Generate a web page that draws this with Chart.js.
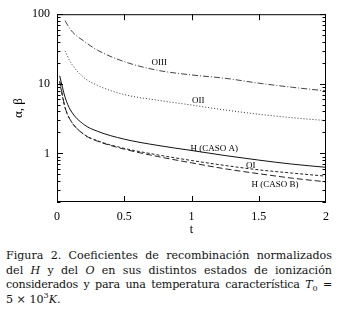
<!DOCTYPE html>
<html>
<head>
<meta charset="utf-8">
<script src="https://cdn.jsdelivr.net/npm/chart.js@4.4.1/dist/chart.umd.min.js"></script>
<style>
  body { margin: 0; background: #fff; width: 343px; height: 315px; overflow: hidden; position: relative; }
  #chart { display: block; }
  .caption {
    position: absolute; left: 6px; top: 249px; width: 326px;
    font-family: "DejaVu Serif", serif;
    font-size: 11.1px; line-height: 14.5px; color: #111;
  }
  .caption .j { text-align: justify; text-align-last: justify; }
  .caption .tight { letter-spacing: -0.2px; }
  .caption sub, .caption sup { font-size: 8px; line-height: 0; }
</style>
</head>
<body>
<canvas id="chart" width="343" height="240"></canvas>
<div class="caption">
  <div class="j">Figura 2. Coeficientes de recombinación normalizados</div>
  <div class="j">del <i>H</i> y del <i>O</i> en sus distintos estados de ionización</div>
  <div class="j tight">considerados y para una temperatura característica <i>T</i><sub>0</sub> =</div>
  <div>5 × 10<sup>3</sup><i>K</i>.</div>
</div>
<script>
// t grid (x axis) and normalised coefficients
const tValues = [0.02, 0.06, 0.1, 0.2, 0.3, 0.5, 0.75, 1, 1.25, 1.5, 1.75, 2];
const oIII    = [null, 81, 60, 41, 30.5, 20.8, 15.6, 13.4, 12, 10.2, 8.9, 7.9];
const oII     = [null, 29.7, 20.5, 12.3, 9.5, 7.0, 5.8, 4.95, 4.2, 3.65, 3.25, 2.96];
const hCasoA  = [13, 6.4, 4.2, 2.6, 2.08, 1.6, 1.3, 1.1, 0.93, 0.8, 0.7, 0.63];
const oI      = [10.5, 4.5, 3.0, 1.88, 1.52, 1.18, 0.95, 0.79, 0.67, 0.58, 0.52, 0.47];
const hCasoB  = [11, 4.6, 3.0, 1.87, 1.5, 1.15, 0.9, 0.73, 0.6, 0.51, 0.44, 0.39];

const yMajorTicks = [1, 10, 100];
const xTickStep = 0.5;

// curve labels, placed in data coordinates
const curveLabels = ['OIII', 'OII', 'H (CASO A)', 'OI', 'H (CASO B)'];
const labelT = [0.76, 1.05, 1.17, 1.44, 1.62];
const labelV = [20, 5.8, 1.17, 0.66, 0.36];

const serif = '"Liberation Serif", "Times New Roman", Times, serif';

// all the log ticks between 0.2 and 100 (minor + major)
function logTicks() {
  const out = [];
  [0.1, 1, 10].forEach(dec => {
    for (let k = 1; k <= 9; k++) {
      const v = +(k * dec).toPrecision(3);
      if (v >= 0.2 && v <= 100) out.push({ value: v });
    }
  });
  out.push({ value: 100 });
  return out;
}

// frame with inward ticks on all four sides, and curve labels
const framePlugin = {
  id: 'framePlugin',
  afterDraw(chart) {
    const { ctx, chartArea: a, scales: { x, y } } = chart;
    ctx.save();
    ctx.strokeStyle = '#000';
    ctx.lineWidth = 1;
    ctx.strokeRect(a.left + 0.5, a.top + 0.5, a.right - a.left - 1, a.bottom - a.top - 1);
    ctx.beginPath();
    y.ticks.forEach(tk => {
      const py = Math.round(y.getPixelForValue(tk.value)) + 0.5;
      const len = yMajorTicks.includes(tk.value) ? 6 : 3.5;
      ctx.moveTo(a.left, py); ctx.lineTo(a.left + len, py);
      ctx.moveTo(a.right, py); ctx.lineTo(a.right - len, py);
    });
    x.ticks.forEach(tk => {
      if (tk.value <= x.min || tk.value >= x.max) return;
      const px = Math.round(x.getPixelForValue(tk.value)) + 0.5;
      ctx.moveTo(px, a.bottom); ctx.lineTo(px, a.bottom - 6);
      ctx.moveTo(px, a.top); ctx.lineTo(px, a.top + 6);
    });
    ctx.stroke();

    ctx.fillStyle = '#000';
    ctx.font = '9px ' + serif;
    ctx.textAlign = 'center';
    ctx.textBaseline = 'middle';
    curveLabels.forEach((txt, i) => {
      ctx.fillText(txt, x.getPixelForValue(labelT[i]), y.getPixelForValue(labelV[i]));
    });
    ctx.restore();
  }
};

function series(values, dash, color) {
  return {
    data: tValues.map((t, i) => ({ x: t, y: values[i] })),
    borderColor: color,
    borderWidth: 1,
    borderDash: dash,
    pointRadius: 0,
    fill: false,
    cubicInterpolationMode: 'monotone',
    spanGaps: false
  };
}

const ctx = document.getElementById('chart').getContext('2d');
new Chart(ctx, {
  type: 'line',
  data: {
    datasets: [
      series(oIII, [6, 2, 1, 2], '#444'),
      series(oII, [1, 2], '#333'),
      series(hCasoA, [], '#111'),
      series(oI, [3, 2], '#222'),
      series(hCasoB, [6, 3], '#222')
    ]
  },
  options: {
    responsive: false,
    animation: false,
    devicePixelRatio: 1,
    layout: { padding: { top: 13, right: 17, left: 0, bottom: 0 } },
    plugins: { legend: { display: false }, tooltip: { enabled: false } },
    scales: {
      x: {
        type: 'linear',
        min: 0, max: 2,
        grid: { display: false, drawTicks: false },
        border: { display: false },
        ticks: {
          stepSize: xTickStep,
          padding: 8,
          color: '#000',
          font: { family: serif, size: 12 },
          callback: v => String(+v.toFixed(1))
        },
        title: {
          display: true, text: 't', color: '#000',
          font: { family: serif, size: 12 },
          padding: { top: 0, bottom: 3 }
        },
        afterFit: s => { s.height = 38; }
      },
      y: {
        type: 'logarithmic',
        min: 0.2, max: 100,
        grid: { display: false, drawTicks: false },
        border: { display: false },
        afterBuildTicks: s => { s.ticks = logTicks(); },
        ticks: {
          autoSkip: false,
          padding: 7,
          color: '#000',
          font: { family: serif, size: 12 },
          callback: v => yMajorTicks.includes(v) ? String(v) : ''
        },
        title: {
          display: true, text: 'α, β', color: '#000',
          font: { family: serif, size: 13 },
          padding: { top: 11, bottom: 0 }
        },
        afterFit: s => { s.width = 57; }
      }
    }
  },
  plugins: [framePlugin]
});
</script>
</body>
</html>
